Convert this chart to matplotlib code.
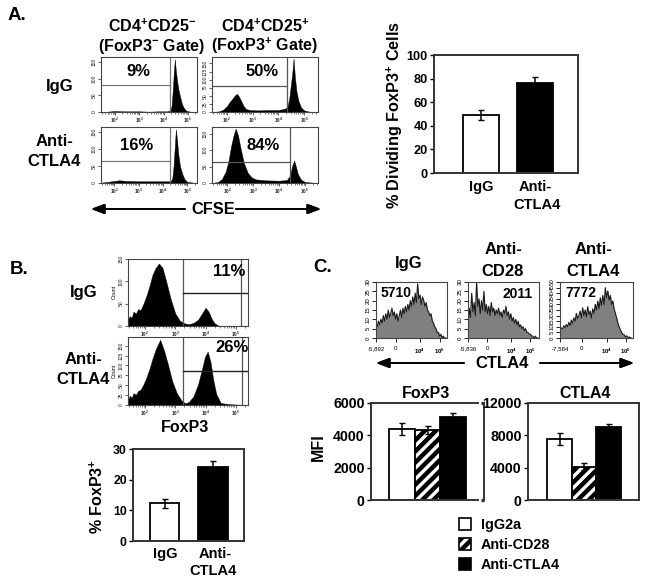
import numpy as np
import matplotlib
matplotlib.use('Agg')
import matplotlib.pyplot as plt
from matplotlib.patches import Patch

plt.rcParams['font.family'] = ['Liberation Sans', 'DejaVu Sans']
plt.rcParams['font.weight'] = 'bold'
plt.rcParams['mathtext.fontset'] = 'custom'
plt.rcParams['mathtext.bf'] = 'Liberation Sans:bold'
plt.rcParams['mathtext.rm'] = 'Liberation Sans:bold'
plt.rcParams['hatch.linewidth'] = 3.2

W, H = 649, 582

# ── Panel A histograms (x = log10 CFSE) ───────────────────────────────────────
a1_x = [1.45, 1.7, 2.0, 2.3, 2.6, 3.0, 3.4, 3.8, 4.15, 4.28, 4.33, 4.38, 4.42, 4.46, 4.5, 4.55, 4.6, 4.68, 4.76, 4.85, 4.95, 5.1, 5.37]
a1_y = [0, 1, 3, 2, 2, 2, 1, 2, 2, 5, 20, 70, 120, 158, 125, 95, 70, 45, 22, 10, 3, 1, 0]
a2_x = [1.42, 1.7, 1.85, 2.0, 2.1, 2.2, 2.3, 2.38, 2.45, 2.55, 2.65, 2.75, 2.9, 3.2, 3.6, 4.0, 4.25, 4.35, 4.42, 4.48, 4.54, 4.59, 4.64, 4.7, 4.78, 4.88, 5.0, 5.2, 5.54]
a2_y = [0, 2, 7, 18, 30, 40, 50, 56, 50, 35, 18, 9, 6, 5, 6, 6, 10, 16, 40, 80, 120, 165, 110, 65, 35, 14, 5, 1, 0]
a3_x = [1.45, 1.7, 2.0, 2.2, 2.5, 3.0, 3.5, 4.0, 4.3, 4.38, 4.43, 4.48, 4.53, 4.58, 4.63, 4.7, 4.78, 4.88, 5.0, 5.4]
a3_y = [1, 3, 6, 8, 6, 5, 5, 5, 5, 12, 45, 100, 158, 125, 85, 50, 30, 12, 3, 0]
a4_x = [1.42, 1.65, 1.8, 1.95, 2.05, 2.15, 2.25, 2.33, 2.42, 2.52, 2.65, 2.8, 2.95, 3.1, 3.5, 4.0, 4.3, 4.42, 4.5, 4.58, 4.65, 4.72, 4.85, 5.0, 5.5]
a4_y = [0, 3, 12, 35, 65, 110, 145, 165, 145, 105, 60, 30, 17, 11, 8, 7, 9, 22, 50, 68, 50, 28, 10, 3, 0]

# ── Panel B histograms (x = log10 FoxP3) ──────────────────────────────────────
b1_x = [1.44, 1.5, 1.56, 1.62, 1.7, 1.78, 1.85, 1.95, 2.05, 2.15, 2.25, 2.35, 2.46, 2.58, 2.7, 2.85, 3.0, 3.15, 3.3, 3.45, 3.6, 3.75, 3.9, 4.0, 4.1, 4.2, 4.3, 4.42, 4.6, 5.4]
b1_y = [15, 22, 18, 32, 28, 38, 35, 50, 68, 90, 115, 130, 140, 130, 100, 60, 28, 12, 6, 4, 7, 14, 30, 41, 32, 16, 6, 1, 0, 0]
b2_x = [1.44, 1.5, 1.56, 1.62, 1.7, 1.78, 1.85, 1.95, 2.05, 2.15, 2.25, 2.35, 2.5, 2.62, 2.75, 2.9, 3.05, 3.2, 3.33, 3.45, 3.6, 3.75, 3.88, 3.98, 4.07, 4.16, 4.25, 4.35, 4.5, 4.8, 5.4]
b2_y = [14, 24, 18, 30, 26, 36, 38, 52, 70, 92, 118, 140, 165, 140, 105, 60, 30, 12, 4, 8, 22, 52, 90, 122, 135, 110, 65, 28, 5, 2, 0]

# ── Panel C histograms (x = bin along the biexponential axis) ─────────────────
c1_y = [8, 6, 9, 7, 10, 8, 12, 9, 13, 10, 15, 11, 13, 16, 12, 14, 10, 13, 9, 12, 15, 11, 16, 13, 17, 14, 18, 15, 20, 17, 22, 18, 24, 19, 29, 21, 23, 18, 22, 20, 17, 19, 15, 14, 12, 13, 9, 8, 6, 5, 3, 3, 1, 2, 0, 1, 0, 0]
c2_y = [6, 16, 11, 24, 14, 19, 12, 30, 17, 21, 13, 20, 15, 25, 14, 18, 13, 17, 12, 19, 14, 16, 12, 15, 13, 16, 12, 14, 11, 15, 13, 17, 12, 14, 10, 13, 9, 11, 8, 10, 7, 9, 6, 7, 5, 6, 4, 5, 3, 3, 2, 2, 1, 1, 0, 1, 0, 0]
c3_y = [7, 9, 8, 11, 9, 12, 10, 14, 11, 16, 13, 18, 15, 22, 17, 20, 24, 18, 27, 20, 25, 19, 28, 21, 24, 18, 26, 22, 30, 25, 33, 26, 36, 29, 38, 30, 45, 36, 42, 34, 38, 30, 33, 26, 22, 18, 13, 10, 7, 5, 3, 3, 1, 2, 0, 1, 0, 0]
c_max = [30, 30, 50]
c_low = ['-5,892', '-5,836', '-7,584']
c_zero = [0.28, 0.27, 0.30]
c_e4 = [0.62, 0.61, 0.64]
c_e5 = [0.90, 0.88, 0.90]

# ── Bar charts ────────────────────────────────────────────────────────────────
a_vals = [49, 76]
a_err = [4, 5]
b_vals = [12.3, 24.2]
b_err = [1.5, 2.0]
c_groups = ['IgG2a', 'Anti-CD28', 'Anti-CTLA4']
c_fox = [4400, 4350, 5150]
c_fox_err = [350, 250, 220]
c_ctla = [7550, 4100, 9000]
c_ctla_err = [700, 450, 350]

DARK = '#333333'

fig = plt.figure(figsize=(W / 100, H / 100), dpi=100)


def axpx(l, t, r, b):
    return fig.add_axes([l / W, 1 - b / H, (r - l) / W, (b - t) / H])


def txt(x, y, s, size=11.5, **kw):
    kw.setdefault('ha', 'center')
    fig.text(x / W, 1 - y / H, s, fontsize=size, va='center', **kw)


def arrow(x0, x1, y):
    fig.add_artist(plt.annotate('', xy=(x1 / W, 1 - y / H), xytext=(x0 / W, 1 - y / H),
                                xycoords='figure fraction',
                                arrowprops=dict(arrowstyle='-|>,head_width=0.3,head_length=0.8',
                                                color='k', lw=1.3, shrinkA=0, shrinkB=0)))


def flow_hist(ax, x, y, xlim, ymax, yticks, color='k'):
    ax.fill_between(x, y, 0, color=color, lw=0.3)
    ax.set_xlim(*xlim); ax.set_ylim(0, ymax)
    ax.set_xticks([2, 3, 4, 5])
    ax.set_xticklabels(['$10^{2}$', '$10^{3}$', '$10^{4}$', '$10^{5}$'], fontsize=3.4, fontweight='normal')
    minor = [d + np.log10(m) for d in [1, 2, 3, 4, 5] for m in range(2, 10)]
    ax.set_xticks([m for m in minor if xlim[0] < m < xlim[1]], minor=True)
    ax.set_yticks(yticks)
    ax.set_yticklabels(yticks, rotation=90, va='center', fontsize=3.6, fontweight='normal')
    ax.tick_params(axis='both', which='major', length=2.2, width=0.5, pad=0.7, colors='#222222')
    ax.tick_params(axis='x', which='minor', length=1.3, width=0.4, colors='#222222')
    for s in ax.spines.values():
        s.set_linewidth(0.8); s.set_color('#444444')


def gate(ax, xv, yh, color='#555555'):
    ax.axvline(xv, color=color, lw=0.9)
    ax.plot([ax.get_xlim()[0], xv], [yh, yh], color=color, lw=0.9)


def bar_panel(ax, vals, errs, xlim, ylim, yticks, colors, width, size=10):
    bars = ax.bar(np.arange(len(vals)), vals, width=width, color=colors, edgecolor='k', lw=1.3)
    ax.errorbar(np.arange(len(vals)), vals, yerr=errs, fmt='none', ecolor='k', elinewidth=1.1, capsize=2, capthick=1)
    ax.set_xlim(*xlim); ax.set_ylim(*ylim)
    ax.set_yticks(yticks)
    ax.tick_params(axis='y', labelsize=size, length=3, width=1, pad=1.5)
    ax.set_xticks([])
    for s in ax.spines.values():
        s.set_linewidth(1.4); s.set_color(DARK)
    return bars


# ── Panel A ───────────────────────────────────────────────────────────────────
txt(8, 15, 'A.', 13.5, ha='left')
txt(152, 26, r'CD4$\mathbf{^{+}}$CD25$\mathbf{^{-}}$')
txt(152, 46, r'(FoxP3$\mathbf{^{-}}$ Gate)')
txt(265, 26, r'CD4$\mathbf{^{+}}$CD25$\mathbf{^{+}}$')
txt(265, 46, r'(FoxP3$\mathbf{^{+}}$ Gate)')
txt(60, 86, 'IgG', 12)
txt(54, 142, 'Anti-', 12)
txt(54, 161, 'CTLA4', 12)

ax = axpx(101, 57, 197, 112)
flow_hist(ax, a1_x, a1_y, (1.43, 5.37), 165, [0, 50, 100, 150])
gate(ax, 4.25, 80, '#777777')
ax = axpx(212, 57, 318, 112)
flow_hist(ax, a2_x, a2_y, (1.42, 5.54), 170, [0, 25, 50, 75, 100, 125, 150])
gate(ax, 4.35, 80)
ax = axpx(101, 127, 197, 183)
flow_hist(ax, a3_x, a3_y, (1.45, 5.4), 165, [0, 50, 100, 150])
gate(ax, 4.28, 65, '#777777')
ax = axpx(212, 127, 318, 183)
flow_hist(ax, a4_x, a4_y, (1.42, 5.5), 170, [0, 50, 100, 150])
gate(ax, 4.42, 65)

txt(138, 72, '9%', 12)
txt(262, 72, '50%', 12)
txt(137, 145, '16%', 12)
txt(263, 145, '84%', 12)
txt(213, 209, 'CFSE', 11.8)
arrow(185, 91, 209)
arrow(236, 321, 209)

ax = axpx(434, 55, 578, 173)
bar_panel(ax, a_vals, a_err, (-0.87, 1.796), (0, 100), [0, 20, 40, 60, 80, 100], ['white', 'k'], 0.667, size=9.2)
txt(395, 115, r'% Dividing FoxP3$\mathbf{^{+}}$ Cells', 11.7, rotation=90)
txt(481, 187, 'IgG', 10.5)
txt(535, 187, 'Anti-', 10.5)
txt(537, 205, 'CTLA4', 10.5)

# ── Panel B ───────────────────────────────────────────────────────────────────
txt(10, 270, 'B.', 13.5, ha='left')
txt(84, 292, 'IgG', 12)
txt(83, 359, 'Anti-', 12)
txt(83, 379, 'CTLA4', 12)

ax = axpx(128, 259, 248, 326)
flow_hist(ax, b1_x, b1_y, (1.44, 5.4), 150, [0, 50, 100, 150])
ax.axvline(3.27, color='#555555', lw=0.9); ax.axvline(5.18, color='#555555', lw=0.9)
ax.plot([3.27, 5.4], [75, 75], color='#222222', lw=1.0)
ax = axpx(128, 337, 248, 405)
flow_hist(ax, b2_x, b2_y, (1.44, 5.4), 172, [0, 25, 50, 75, 100, 125, 150])
ax.axvline(3.27, color='#555555', lw=0.9); ax.axvline(5.2, color='#555555', lw=0.9)
ax.plot([3.27, 5.4], [85, 85], color='#222222', lw=1.0)
txt(114, 292, 'Count', 3.8, rotation=90, fontweight='normal')
txt(114, 371, 'Count', 3.8, rotation=90, fontweight='normal')
txt(229, 271, '11%', 12)
txt(232, 348, '26%', 12)
txt(185, 427, 'FoxP3', 11.5)

ax = axpx(133, 449, 244, 541)
bar_panel(ax, b_vals, b_err, (-0.65, 1.64), (0, 30), [0, 10, 20, 30], ['white', 'k'], 0.6, size=8.8)
txt(97, 497, r'% FoxP3$\mathbf{^{+}}$', 11.5, rotation=90)
txt(165, 554, 'IgG', 10.5)
txt(215, 554, 'Anti-', 10.5)
txt(213, 571, 'CTLA4', 10.5)

# ── Panel C ───────────────────────────────────────────────────────────────────
txt(313, 268, 'C.', 13.5, ha='left')
txt(409, 264, 'IgG', 12)
txt(503, 250, 'Anti-', 12)
txt(503, 271, 'CD28', 12)
txt(593, 250, 'Anti-', 12)
txt(593, 271, 'CTLA4', 12)

c_frames = [(376, 447), (468, 539), (560, 633)]
for i, (y, (l, r)) in enumerate(zip([c1_y, c2_y, c3_y], c_frames)):
    ax = axpx(l, 282, r, 338)
    n = len(y)
    x = np.arange(n) / n
    ax.fill_between(x, y, 0, color='#808080', lw=0)
    ax.plot(x, y, color='#1a1a1a', lw=0.8)
    ax.set_xlim(0, 1); ax.set_ylim(0, c_max[i])
    ax.set_xticks([0, c_zero[i], c_e4[i], c_e5[i]])
    ax.set_xticklabels([c_low[i], '0', '$10^{4}$', '$10^{5}$'], fontsize=4.4, fontweight='normal')
    ax.set_yticks(np.arange(0, c_max[i] + 1, 5))
    ax.set_yticklabels(np.arange(0, c_max[i] + 1, 5), rotation=90, va='center', fontsize=4.4, fontweight='normal')
    ax.tick_params(axis='both', length=3, width=0.6, pad=1)
    ax.tick_params(axis='x', pad=3)
    for s in ax.spines.values():
        s.set_linewidth(0.8); s.set_color('#444444')

txt(396, 293, '5710', 10)
txt(518, 294, '2011', 10)
txt(581, 293, '7772', 10)
txt(502, 363, 'CTLA4', 12)
arrow(464, 376, 363)
arrow(540, 634, 363)

colors = ['white', 'white', 'k']
hatches = [None, '///', None]
ax = axpx(371, 403, 484, 500)
bars = bar_panel(ax, c_fox, c_fox_err, (-1.2, 3.19), (0, 6000), [0, 2000, 4000, 6000], colors, 1.0, size=10.2)
for b, h in zip(bars, hatches):
    b.set_hatch(h)
ax.spines['top'].set_bounds(-1.2, 2.95)
ax.spines['bottom'].set_bounds(-1.2, 2.95)
ax.plot([3.07, 3.19], [6000, 6000], color=DARK, lw=2.4, clip_on=False, solid_capstyle='butt')
ax.plot([3.07, 3.19], [0, 0], color=DARK, lw=2.4, clip_on=False, solid_capstyle='butt')
txt(426, 393, 'FoxP3', 11.5)

ax = axpx(528, 403, 639, 500)
bars = bar_panel(ax, c_ctla, c_ctla_err, (-1.29, 3.24), (0, 12000), [0, 4000, 8000, 12000], colors, 1.0, size=10.2)
for b, h in zip(bars, hatches):
    b.set_hatch(h)
txt(585, 393, 'CTLA4', 11.5)
txt(318, 447, 'MFI', 11.5, rotation=90)

handles = [Patch(facecolor=c, edgecolor='k', lw=1.2, hatch=h) for c, h in zip(colors, hatches)]
fig.legend(handles, c_groups, loc='center left', bbox_to_anchor=(459 / W, 1 - 545 / H), frameon=False,
           fontsize=10.4, handlelength=0.83, handleheight=0.83, handletextpad=0.7, labelspacing=0.42,
           borderpad=0, borderaxespad=0)

plt.savefig('out.png', dpi=100)
plt.close()
